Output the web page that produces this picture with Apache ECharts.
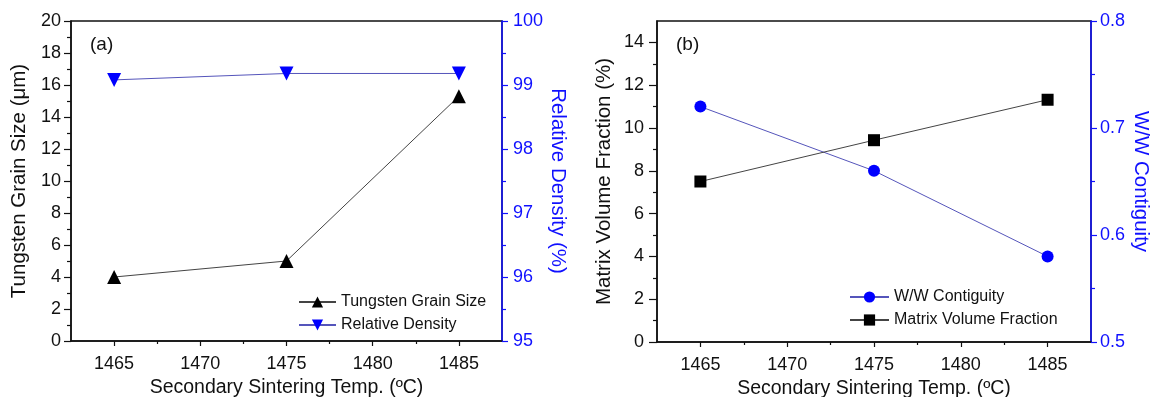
<!DOCTYPE html>
<html>
<head>
<meta charset="utf-8">
<script src="https://cdn.jsdelivr.net/npm/echarts@6/dist/echarts.min.js"></script>
<style>
  html, body { margin: 0; padding: 0; background: #fff; }
  #chart { width: 1154px; height: 397px; }
</style>
</head>
<body>
<div id="chart"></div>
<script>
// data
const temps = [1465, 1475, 1485];
const grainSize = [4.0, 5.0, 15.3];
const relDensity = [99.08, 99.18, 99.18];
const contiguity = [0.72, 0.66, 0.58];
const matrixFraction = [7.5, 9.43, 11.32];

// tick positions
const xMajor = [1465, 1470, 1475, 1480, 1485];
const xMinor = [1467.5, 1472.5, 1477.5, 1482.5];
const yMajorB = [0, 2, 4, 6, 8, 10, 12, 14];
const yMinorB = [1, 3, 5, 7, 9, 11, 13];

const FONT = 'Liberation Sans, Arial, sans-serif';
const BLUE = '#1010ff';
const BLACK = '#111';

const pairs = (xs, ys) => xs.map((x, i) => [x, ys[i]]);

const chart = echarts.init(document.getElementById('chart'));

function xMain(grid) {
  return {
    gridIndex: grid, type: 'value', min: 1462.5, max: 1487.5, position: 'bottom',
    name: 'Secondary Sintering Temp. (ºC)', nameLocation: 'middle', nameGap: 36,
    nameTextStyle: { color: BLACK, fontSize: 19.5, fontFamily: FONT },
    axisLine: { lineStyle: { color: BLACK, width: 1.5 } },
    axisTick: { show: true, inside: false, length: 5, customValues: xMajor, lineStyle: { color: BLACK, width: 1.2 } },
    axisLabel: { customValues: xMajor, margin: 14, color: BLACK, fontSize: 18, fontFamily: FONT, formatter: v => String(v) },
    splitLine: { show: false }
  };
}
function xMinorAxis(grid) {
  return {
    gridIndex: grid, type: 'value', min: 1462.5, max: 1487.5, position: 'bottom',
    axisLine: { show: false },
    axisTick: { show: true, length: 3, customValues: xMinor, lineStyle: { color: BLACK, width: 1.2 } },
    axisLabel: { show: false },
    splitLine: { show: false }
  };
}

const option = {
  animation: false,
  backgroundColor: '#fff',
  textStyle: { fontFamily: FONT },
  grid: [
    { left: 71, top: 21, width: 431, height: 320, outerBoundsMode: 'none', show: true, borderColor: BLACK, borderWidth: 1.5 },
    { left: 657, top: 21, width: 434, height: 321, outerBoundsMode: 'none', show: true, borderColor: BLACK, borderWidth: 1.5 }
  ],
  xAxis: [xMain(0), xMinorAxis(0), xMain(1), xMinorAxis(1)],
  yAxis: [
    {
      gridIndex: 0, type: 'value', min: 0, max: 20, interval: 2, position: 'left',
      name: 'Tungsten Grain Size (μm)', nameLocation: 'middle', nameGap: 41,
      nameTextStyle: { color: BLACK, fontSize: 20.5, fontFamily: FONT },
      axisLine: { show: true, lineStyle: { color: BLACK, width: 1.5 } },
      axisTick: { show: true, length: 7, lineStyle: { color: BLACK, width: 1.2 } },
      minorTick: { show: true, splitNumber: 2, length: 4, lineStyle: { color: BLACK, width: 1.2 } },
      axisLabel: { color: BLACK, fontSize: 18, margin: 10, fontFamily: FONT },
      splitLine: { show: false }
    },
    {
      gridIndex: 0, type: 'value', min: 95, max: 100, interval: 1, position: 'right',
      name: 'Relative Density (%)', nameLocation: 'middle', nameGap: 38, nameRotate: -90,
      nameTextStyle: { color: BLUE, fontSize: 20.5, fontFamily: FONT },
      axisLine: { show: true, lineStyle: { color: BLUE, width: 1.5 } },
      axisTick: { show: true, length: 6, lineStyle: { color: BLUE, width: 1.2 } },
      minorTick: { show: true, splitNumber: 2, length: 4, lineStyle: { color: BLUE, width: 1.2 } },
      axisLabel: { color: BLUE, fontSize: 18, margin: 11, fontFamily: FONT },
      splitLine: { show: false }
    },
    {
      gridIndex: 1, type: 'value', min: 0, max: 15, position: 'left',
      name: 'Matrix Volume Fraction (%)', nameLocation: 'middle', nameGap: 42,
      nameTextStyle: { color: BLACK, fontSize: 20.5, fontFamily: FONT },
      axisLine: { show: true, lineStyle: { color: BLACK, width: 1.5 } },
      axisTick: { show: true, length: 8, customValues: yMajorB, lineStyle: { color: BLACK, width: 1.2 } },
      axisLabel: { customValues: yMajorB, color: BLACK, fontSize: 18, margin: 13, fontFamily: FONT },
      splitLine: { show: false }
    },
    {
      gridIndex: 1, type: 'value', min: 0.5, max: 0.8, interval: 0.1, position: 'right',
      name: 'W/W Contiguity', nameLocation: 'middle', nameGap: 39, nameRotate: -90,
      nameTextStyle: { color: BLUE, fontSize: 20.5, fontFamily: FONT },
      axisLine: { show: true, lineStyle: { color: BLUE, width: 1.5 } },
      axisTick: { show: true, length: 6, lineStyle: { color: BLUE, width: 1.2 } },
      minorTick: { show: true, splitNumber: 2, length: 4, lineStyle: { color: BLUE, width: 1.2 } },
      axisLabel: { color: BLUE, fontSize: 18, margin: 9, fontFamily: FONT, formatter: v => v.toFixed(1) },
      splitLine: { show: false }
    },
    {
      gridIndex: 1, type: 'value', min: 0, max: 15, position: 'left',
      axisLine: { show: false },
      axisTick: { show: true, length: 4, customValues: yMinorB, lineStyle: { color: BLACK, width: 1.2 } },
      axisLabel: { show: false },
      splitLine: { show: false }
    }
  ],
  legend: [
    {
      data: ['Tungsten Grain Size', 'Relative Density'],
      orient: 'vertical', left: 293, top: 289, itemGap: 7,
      itemWidth: 37, itemHeight: 14,
      textStyle: { color: BLACK, fontSize: 16, fontFamily: FONT }
    },
    {
      data: ['W/W Contiguity', 'Matrix Volume Fraction'],
      orient: 'vertical', left: 844, top: 284, itemGap: 7,
      itemWidth: 39, itemHeight: 14,
      textStyle: { color: BLACK, fontSize: 16, fontFamily: FONT }
    }
  ],
  graphic: [
    { type: 'text', left: 90, top: 35, style: { text: '(a)', fontSize: 19, fill: BLACK, fontFamily: FONT } },
    { type: 'text', left: 676, top: 35, style: { text: '(b)', fontSize: 19, fill: BLACK, fontFamily: FONT } }
  ],
  series: [
    {
      name: 'Tungsten Grain Size', type: 'line', xAxisIndex: 0, yAxisIndex: 0,
      data: pairs(temps, grainSize),
      symbol: 'triangle', symbolSize: 14,
      lineStyle: { color: '#444', width: 1 },
      itemStyle: { color: '#000' }
    },
    {
      name: 'Relative Density', type: 'line', xAxisIndex: 0, yAxisIndex: 1,
      data: pairs(temps, relDensity),
      symbol: 'triangle', symbolRotate: 180, symbolSize: 14,
      lineStyle: { color: '#5555bb', width: 1 },
      itemStyle: { color: '#0000ff' }
    },
    {
      name: 'W/W Contiguity', type: 'line', xAxisIndex: 2, yAxisIndex: 3,
      data: pairs(temps, contiguity),
      symbol: 'circle', symbolSize: 12,
      lineStyle: { color: '#5555bb', width: 1 },
      itemStyle: { color: '#0000ff' }
    },
    {
      name: 'Matrix Volume Fraction', type: 'line', xAxisIndex: 2, yAxisIndex: 2,
      data: pairs(temps, matrixFraction),
      symbol: 'rect', symbolSize: 12,
      lineStyle: { color: '#444', width: 1 },
      itemStyle: { color: '#000' }
    }
  ]
};

chart.setOption(option);
</script>
</body>
</html>
